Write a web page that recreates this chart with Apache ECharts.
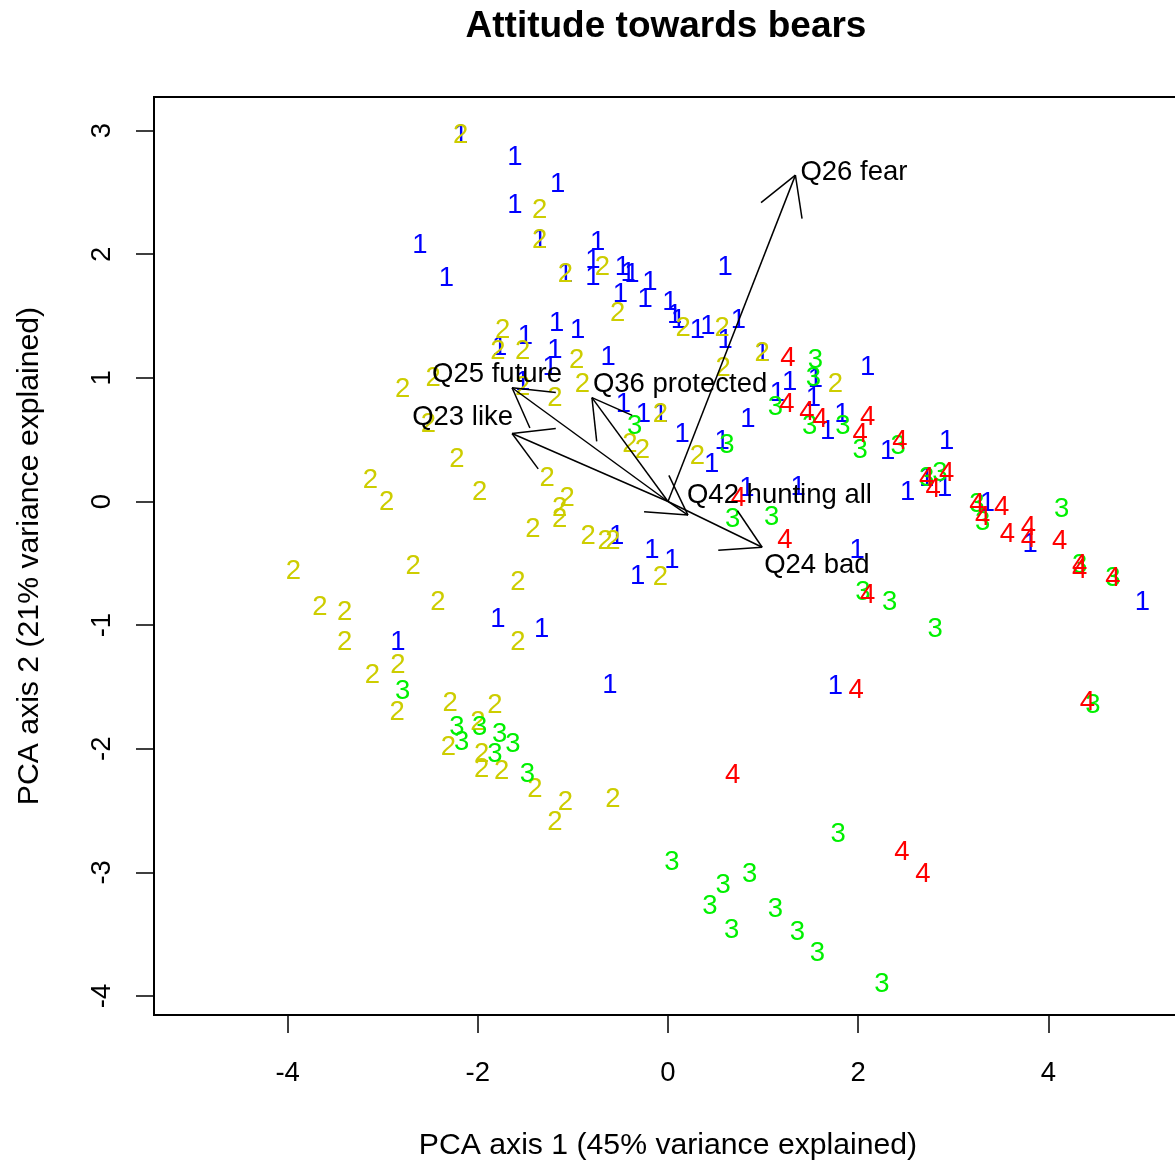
<!DOCTYPE html>
<html>
<head>
<meta charset="utf-8">
<script src="https://cdn.jsdelivr.net/npm/echarts@6/dist/echarts.min.js"></script>
<style>
html,body{margin:0;padding:0;background:#fff;}
#chart{width:1175px;height:1166px;}
</style>
</head>
<body>
<div id="chart"></div>
<script>
// ---------- DATA ----------
const chartTitle = 'Attitude towards bears';
const xAxisTitle = 'PCA axis 1 (45% variance explained)';
const yAxisTitle = 'PCA axis 2 (21% variance explained)';
const xTicks = [-4, -2, 0, 2, 4];
const yTicks = [-4, -3, -2, -1, 0, 1, 2, 3];
const groupLabels = ['1', '2', '3', '4'];

const group1 = [
  [-2.18,2.98],[-1.61,2.80],[-1.16,2.58],[-1.61,2.41],[-1.35,2.13],[-2.61,2.09],[-2.33,1.82],
  [-0.74,2.11],[-1.08,1.85],[-0.79,1.97],[-0.79,1.83],[-0.48,1.91],[-0.42,1.86],[-0.38,1.85],
  [-0.19,1.79],[0.60,1.91],[-0.50,1.69],[-0.24,1.65],[0.02,1.63],[0.07,1.52],[0.11,1.48],
  [0.31,1.40],[0.42,1.43],[0.74,1.48],[0.60,1.32],[-1.17,1.46],[-0.95,1.40],[-1.50,1.35],
  [-1.77,1.26],[-1.19,1.24],[-0.63,1.18],[-1.24,1.10],[-1.53,0.98],[0.99,1.21],[1.28,0.98],
  [1.55,1.00],[2.10,1.10],[1.15,0.89],[1.53,0.85],[1.83,0.72],[1.68,0.58],[-0.47,0.80],
  [-0.26,0.72],[-0.08,0.72],[0.15,0.56],[0.46,0.32],[0.57,0.50],[0.84,0.68],[0.83,0.12],
  [1.37,0.13],[1.99,-0.38],[2.31,0.42],[2.93,0.50],[2.52,0.09],[2.72,0.20],[2.91,0.12],
  [3.36,0.00],[3.81,-0.33],[4.99,-0.80],[-0.54,-0.27],[-0.17,-0.38],[0.04,-0.46],[-0.32,-0.59],
  [-1.79,-0.94],[-1.33,-1.02],[-2.84,-1.12],[-0.61,-1.47],[1.76,-1.48]
];
const group2 = [
  [-2.18,2.98],[-1.35,2.37],[-1.35,2.13],[-1.08,1.85],[-0.69,1.91],[-0.53,1.54],[0.16,1.42],
  [0.57,1.42],[-1.74,1.40],[-1.79,1.23],[-1.53,1.23],[-0.96,1.16],[-0.90,0.96],[-1.19,0.85],
  [-2.47,1.01],[-2.79,0.92],[-2.52,0.64],[0.99,1.21],[1.76,0.96],[0.58,1.09],[-0.40,0.48],
  [-0.27,0.43],[-0.08,0.72],[0.31,0.38],[-2.22,0.36],[-3.13,0.19],[-2.96,0.01],[-1.98,0.09],
  [-1.27,0.20],[-1.06,0.04],[-1.14,-0.04],[-1.14,-0.13],[-1.42,-0.21],[-0.84,-0.27],[-0.66,-0.31],
  [-0.58,-0.31],[-0.08,-0.60],[-3.94,-0.55],[-2.68,-0.51],[-1.58,-0.64],[-3.66,-0.84],[-3.40,-0.88],
  [-2.42,-0.80],[-1.58,-1.12],[-3.40,-1.12],[-2.84,-1.31],[-3.11,-1.39],[-2.85,-1.69],[-2.29,-1.62],
  [-1.82,-1.63],[-2.00,-1.77],[-2.31,-1.97],[-1.96,-2.03],[-1.96,-2.15],[-1.75,-2.17],[-1.40,-2.31],
  [-1.08,-2.42],[-1.19,-2.58],[-0.58,-2.39],[-1.53,0.94]
];
const group3 = [
  [1.55,1.16],[1.53,1.01],[1.13,0.78],[1.49,0.62],[1.84,0.62],[2.02,0.43],[2.42,0.46],
  [-0.35,0.62],[0.62,0.47],[0.68,-0.13],[1.09,-0.11],[2.72,0.20],[2.86,0.24],[3.25,-0.01],
  [3.31,-0.15],[4.14,-0.05],[4.33,-0.50],[4.68,-0.61],[2.05,-0.72],[2.33,-0.80],[2.81,-1.02],
  [4.47,-1.63],[-2.79,-1.52],[-2.22,-1.81],[-2.17,-1.93],[-1.98,-1.81],[-1.77,-1.87],[-1.63,-1.95],
  [-1.82,-2.03],[-1.48,-2.19],[1.79,-2.68],[0.04,-2.90],[0.86,-3.00],[0.58,-3.09],[0.44,-3.26],
  [1.13,-3.28],[0.67,-3.45],[1.36,-3.47],[1.57,-3.64],[2.25,-3.89]
];
const group4 = [
  [1.26,1.17],[1.25,0.80],[1.46,0.74],[1.60,0.68],[2.10,0.70],[2.02,0.56],[2.44,0.50],
  [0.74,0.04],[1.23,-0.30],[2.72,0.20],[2.79,0.11],[2.93,0.24],[3.25,-0.01],[3.31,-0.11],
  [3.51,-0.03],[3.57,-0.25],[3.79,-0.19],[3.79,-0.29],[4.12,-0.31],[4.33,-0.50],[4.33,-0.54],
  [4.68,-0.61],[2.10,-0.74],[1.98,-1.51],[4.41,-1.61],[0.68,-2.20],[2.46,-2.82],[2.68,-3.00]
];

const loadingNames = ['Q26 fear', 'Q25 future', 'Q23 like', 'Q36 protected', 'Q42 hunting all', 'Q24 bad'];
const loadingX = [1.34, -1.64, -1.64, -0.80, 0.21, 0.99];
const loadingY = [2.64, 0.92, 0.55, 0.84, -0.11, -0.37];

// ---------- STYLE / LAYOUT ----------
const FONT = '"Liberation Sans", Arial, sans-serif';
const FS = 27.5;
const AXFS = 30.2;
const groupColors = ['#0000FF', '#CDCD00', '#00F000', '#FF0000'];
const TEXT_DY = 2;
// label placement relative to arrow tip (pixels) and alignment
const labelPlace = [
  {dx: 5, dy: -5, align: 'left'},
  {dx: -15, dy: -15, align: 'center'},
  {dx: 1, dy: -18, align: 'right'},
  {dx: 1, dy: -15, align: 'left'},
  {dx: -1, dy: -22, align: 'left'},
  {dx: 2, dy: 16, align: 'left'}
];

const chart = echarts.init(document.getElementById('chart'), null, {renderer: 'canvas'});

function textSeries(points, label, color) {
  return {
    type: 'custom',
    coordinateSystem: 'cartesian2d',
    data: points,
    encode: {x: 0, y: 1},
    clip: false,
    silent: true,
    renderItem: function (params, api) {
      const p = api.coord([api.value(0), api.value(1)]);
      return {
        type: 'text',
        x: p[0], y: p[1] + TEXT_DY,
        style: {text: label, fill: color, font: FS + 'px ' + FONT, align: 'center', verticalAlign: 'middle'}
      };
    }
  };
}

const loadingData = loadingNames.map((n, i) => [loadingX[i], loadingY[i], i]);

const arrowSeries = {
  type: 'custom',
  coordinateSystem: 'cartesian2d',
  data: loadingData,
  encode: {x: 0, y: 1},
  clip: false,
  silent: true,
  z: 5,
  renderItem: function (params, api) {
    const i = api.value(2);
    const o = api.coord([0, 0]);
    const t = api.coord([api.value(0), api.value(1)]);
    const ang = Math.atan2(o[1] - t[1], o[0] - t[0]);
    const L = 44, a = Math.PI / 6;
    const b1 = [t[0] + L * Math.cos(ang + a), t[1] + L * Math.sin(ang + a)];
    const b2 = [t[0] + L * Math.cos(ang - a), t[1] + L * Math.sin(ang - a)];
    const ls = {stroke: '#000', lineWidth: 1.5};
    const pl = labelPlace[i];
    return {
      type: 'group',
      children: [
        {type: 'line', shape: {x1: o[0], y1: o[1], x2: t[0], y2: t[1]}, style: ls},
        {type: 'line', shape: {x1: t[0], y1: t[1], x2: b1[0], y2: b1[1]}, style: ls},
        {type: 'line', shape: {x1: t[0], y1: t[1], x2: b2[0], y2: b2[1]}, style: ls},
        {type: 'text', x: t[0] + pl.dx, y: t[1] + pl.dy + TEXT_DY,
         style: {text: loadingNames[i], fill: '#000', font: FS + 'px ' + FONT, align: pl.align, verticalAlign: 'middle'}}
      ]
    };
  }
};

const option = {
  backgroundColor: '#fff',
  animation: false,
  title: {
    text: chartTitle,
    left: 661, top: 3, textAlign: 'center',
    textStyle: {fontFamily: FONT, fontSize: 37, fontWeight: 'bold', color: '#000'}
  },
  grid: {
    left: 154, top: 97, right: -7, bottom: 151,
    show: true, borderColor: '#000', borderWidth: 2, backgroundColor: 'transparent',
    containLabel: false, outerBoundsMode: 'none'
  },
  xAxis: {
    type: 'value', min: -5.406, max: 5.406,
    name: xAxisTitle, nameLocation: 'middle', nameGap: 116,
    nameTextStyle: {fontFamily: FONT, fontSize: AXFS, color: '#000'},
    axisLine: {show: false, onZero: false},
    splitLine: {show: false},
    axisTick: {show: true, length: 18, lineStyle: {color: '#000', width: 1.5}, customValues: xTicks},
    axisLabel: {show: true, fontFamily: FONT, fontSize: FS, color: '#000', margin: 44, customValues: xTicks}
  },
  yAxis: {
    type: 'value', min: -4.154, max: 3.272,
    name: yAxisTitle, nameLocation: 'middle', nameGap: 109, nameRotate: 90,
    nameTextStyle: {fontFamily: FONT, fontSize: AXFS, color: '#000'},
    axisLine: {show: false, onZero: false},
    splitLine: {show: false},
    axisTick: {show: true, length: 18, lineStyle: {color: '#000', width: 1.5}, customValues: yTicks},
    axisLabel: {show: true, fontFamily: FONT, fontSize: FS, color: '#000', margin: 38, rotate: 90, customValues: yTicks}
  },
  series: [
    textSeries(group1, groupLabels[0], groupColors[0]),
    textSeries(group2, groupLabels[1], groupColors[1]),
    textSeries(group3, groupLabels[2], groupColors[2]),
    textSeries(group4, groupLabels[3], groupColors[3]),
    arrowSeries
  ]
};
chart.setOption(option);
</script>
</body>
</html>
